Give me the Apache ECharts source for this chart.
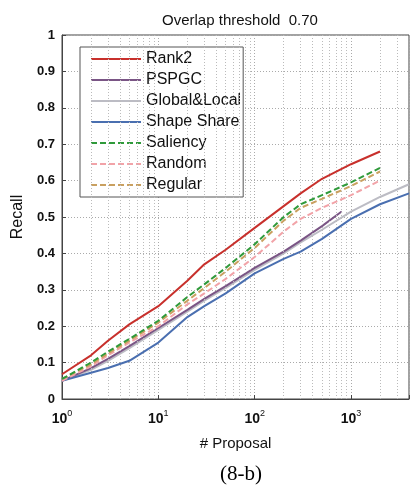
<!DOCTYPE html>
<html>
<head>
	<meta http-equiv="Content-Type" content="text/html; charset=UTF-8">
	<title>Overlap threshold 0.70</title>
	<script src="https://cdn.jsdelivr.net/npm/echarts@6/dist/echarts.min.js"></script>
	<style>
		html, body { margin: 0; padding: 0; background: #fff; }
	</style>
</head>
<body>

	<div id="main" style="width: 413px;height:491px;"></div>

	<script>
		// # proposals (x) and recall (y) for each method
		var xMain = [1, 2, 3, 5, 10, 20, 30, 50, 100, 200, 300, 500, 1000, 2000];
		var xPspgc = [1, 2, 3, 5, 10, 20, 30, 50, 100, 200, 300, 500, 800];
		var xLong = [1, 2, 3, 5, 10, 20, 30, 50, 100, 200, 300, 500, 1000, 2000, 4000];

		var rank2 = [0.068, 0.12, 0.16, 0.205, 0.255, 0.325, 0.37, 0.41, 0.47, 0.53, 0.565, 0.605, 0.645, 0.68];
		var pspgc = [0.05, 0.085, 0.11, 0.145, 0.195, 0.245, 0.275, 0.31, 0.36, 0.405, 0.435, 0.475, 0.515];
		var globalLocal = [0.05, 0.08, 0.105, 0.14, 0.19, 0.24, 0.27, 0.305, 0.355, 0.4, 0.43, 0.465, 0.515, 0.555, 0.59];
		var shapeShare = [0.05, 0.072, 0.085, 0.105, 0.155, 0.225, 0.255, 0.29, 0.345, 0.385, 0.405, 0.44, 0.495, 0.535, 0.565];
		var saliency = [0.055, 0.1, 0.13, 0.165, 0.215, 0.28, 0.315, 0.36, 0.425, 0.5, 0.535, 0.56, 0.595, 0.635];
		var random = [0.05, 0.09, 0.12, 0.155, 0.2, 0.26, 0.29, 0.33, 0.39, 0.46, 0.495, 0.525, 0.56, 0.6];
		var regular = [0.055, 0.095, 0.125, 0.16, 0.21, 0.27, 0.305, 0.35, 0.415, 0.49, 0.525, 0.55, 0.585, 0.625];

		// minor (dotted) vertical grid positions on the log axis
		var minorX = [2, 3, 4, 5, 6, 7, 8, 9, 20, 30, 40, 50, 60, 70, 80, 90,
			200, 300, 400, 500, 600, 700, 800, 900, 2000, 3000];

		var legendNames = ['Rank2', 'PSPGC', 'Global&Local', 'Shape Share', 'Saliency', 'Random', 'Regular'];

		function pairs(xs, ys) {
			var out = [];
			for (var i = 0; i < ys.length; i++) {
				out.push([xs[i], ys[i]]);
			}
			return out;
		}

		function lineSeries(name, xs, ys, color, dashed, z) {
			return {
				name: name,
				type: 'line',
				data: pairs(xs, ys),
				showSymbol: false,
				symbol: 'none',
				z: z,
				lineStyle: {
					color: color,
					width: 2,
					type: dashed ? [6, 3] : 'solid'
				},
				itemStyle: { color: color }
			};
		}

		var chartDom = document.getElementById('main');
		var myChart = echarts.init(chartDom);
		var font = 'Liberation Sans, Arial, Helvetica, sans-serif';

		var option = {
			animation: false,
			backgroundColor: '#fff',
			title: [
				{
					text: 'Overlap threshold  0.70',
					left: 235,
					top: 8,
					textAlign: 'center',
					textStyle: { fontFamily: font, fontSize: 15, fontWeight: 'normal', color: '#111' }
				},
				{
					text: '(8-b)',
					left: 236,
					top: 459,
					textAlign: 'center',
					textStyle: { fontFamily: 'Liberation Serif, Times New Roman, serif', fontSize: 21, fontWeight: 'normal', color: '#000' }
				}
			],
			legend: {
				data: legendNames,
				orient: 'vertical',
				left: 80,
				top: 47,
				padding: [4, 2, 4, 10],
				itemWidth: 50,
				itemHeight: 14,
				itemGap: 5,
				itemStyle: { opacity: 0 },
				backgroundColor: '#fff',
				borderColor: '#555',
				borderWidth: 1,
				textStyle: { fontFamily: font, fontSize: 16, color: '#111' }
			},
			grid: {
				left: 62,
				right: 4,
				top: 35,
				bottom: 92,
				show: true,
				borderColor: '#444',
				borderWidth: 1,
				backgroundColor: '#fff'
			},
			xAxis: {
				type: 'log',
				logBase: 10,
				min: 1,
				max: 4000,
				name: '# Proposal',
				nameLocation: 'middle',
				nameGap: 37,
				nameTextStyle: { fontFamily: font, fontSize: 15, color: '#111' },
				axisLine: { lineStyle: { color: '#444' } },
				axisTick: { inside: true, length: 4, lineStyle: { color: '#444' } },
				splitLine: { show: true, lineStyle: { color: '#aaa', type: [1, 2] } },
				axisLabel: {
					margin: 10,
					formatter: function (v) {
						var e = Math.round(Math.log(v) / Math.LN10);
						if (Math.abs(Math.pow(10, e) - v) > 1e-6) {
							return '';
						}
						return '{b|10}{s|' + e + '}';
					},
					rich: {
						b: { fontFamily: font, fontSize: 14, fontWeight: 'bold', color: '#111' },
						s: { fontFamily: font, fontSize: 9, color: '#111', padding: [0, 0, 12, 0] }
					}
				}
			},
			yAxis: {
				type: 'value',
				min: 0,
				max: 1,
				interval: 0.1,
				name: 'Recall',
				nameLocation: 'middle',
				nameGap: 34,
				nameTextStyle: { fontFamily: font, fontSize: 16, color: '#111' },
				axisLine: { show: true, lineStyle: { color: '#444' } },
				axisTick: { show: true, inside: true, length: 4, lineStyle: { color: '#444' } },
				splitLine: { show: true, lineStyle: { color: '#aaa', type: [1, 2] } },
				axisLabel: { fontFamily: font, fontSize: 13, fontWeight: 'bold', color: '#111', margin: 7 }
			},
			series: [
				{
					name: 'minorGrid',
					type: 'line',
					data: [],
					silent: true,
					z: 1,
					markLine: {
						silent: true,
						symbol: ['none', 'none'],
						label: { show: false },
						lineStyle: { color: '#bbb', type: [1, 2], width: 1 },
						data: minorX.map(function (v) { return { xAxis: v }; })
					}
				},
				lineSeries('Rank2', xMain, rank2, '#c8302c', false, 9),
				lineSeries('PSPGC', xPspgc, pspgc, '#7a5585', false, 4),
				lineSeries('Global&Local', xLong, globalLocal, '#bcbcc4', false, 3),
				lineSeries('Shape Share', xLong, shapeShare, '#4a6fb0', false, 5),
				lineSeries('Saliency', xMain, saliency, '#2f9a3a', true, 8),
				lineSeries('Random', xMain, random, '#f2a3a8', true, 6),
				lineSeries('Regular', xMain, regular, '#c9a060', true, 7)
			]
		};

		option && myChart.setOption(option);
	</script>

</body>
</html>
